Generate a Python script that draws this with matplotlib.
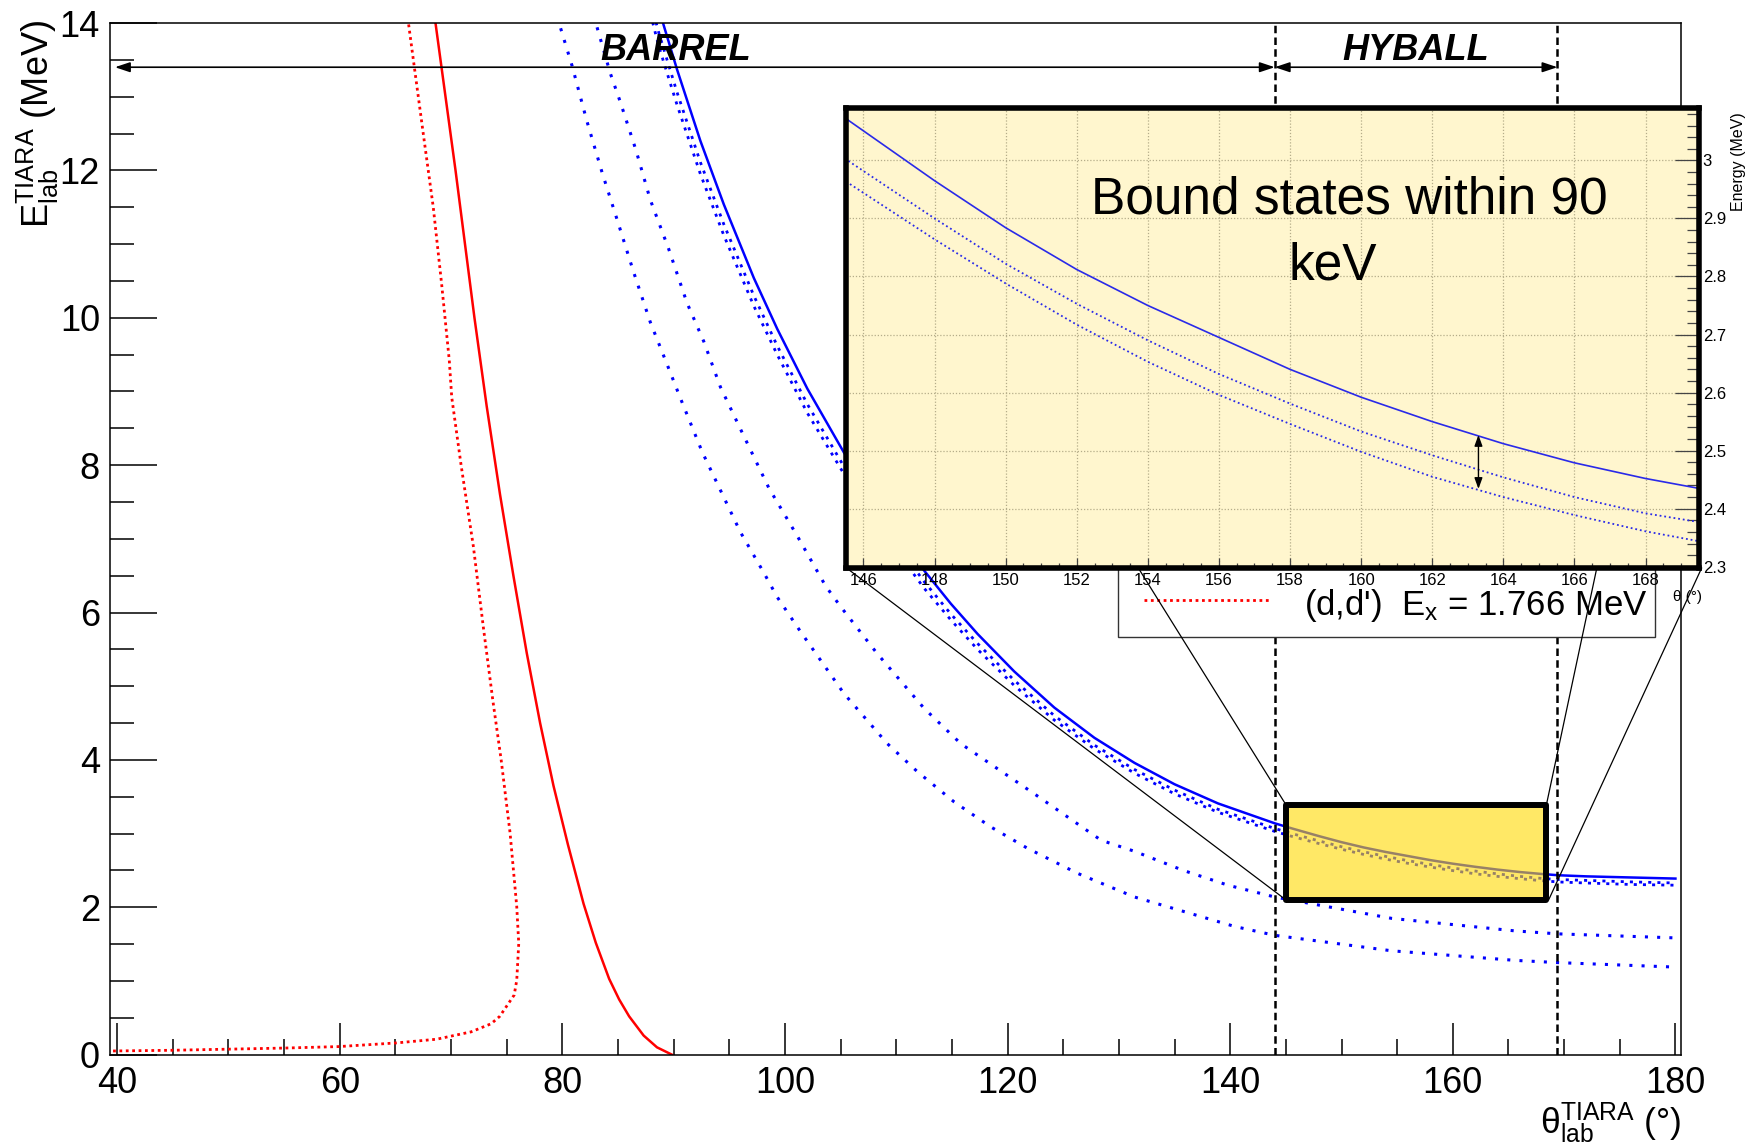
import matplotlib

matplotlib.use("Agg")
import matplotlib.pyplot as plt
from matplotlib.patches import ConnectionPatch, Rectangle
from matplotlib.lines import Line2D
from matplotlib.ticker import FuncFormatter, MultipleLocator

plt.rcParams["font.family"] = ["Liberation Sans", "DejaVu Sans"]
plt.rcParams["mathtext.fontset"] = "custom"
plt.rcParams["mathtext.rm"] = "Liberation Sans"
plt.rcParams["mathtext.it"] = "Liberation Sans:italic"
plt.rcParams["mathtext.bf"] = "Liberation Sans:bold"

W, H = 1750, 1143

# --- (d,p) curves, blue: ground band (solid + two dotted) ---
blue_x = [88.6, 89.1, 90.3, 92.4, 94.5, 97.2, 99.3, 102.0, 105.3, 108.8, 112.5, 114.9,
          117.3, 120.6, 124.2, 127.8, 131.4, 135.0, 138.9, 144.0, 145.6, 148, 150, 152,
          154, 156, 158, 160, 162, 164, 166, 168, 169.5, 172, 176, 180]
blue_solid = [14.23, 13.97, 13.37, 12.40, 11.54, 10.54, 9.85, 9.04, 8.17, 7.35, 6.57, 6.12,
              5.71, 5.20, 4.71, 4.30, 3.96, 3.67, 3.41, 3.14, 3.068, 2.965, 2.884, 2.812,
              2.750, 2.695, 2.640, 2.592, 2.550, 2.512, 2.479, 2.452, 2.435, 2.42, 2.405, 2.39]
blue_dot1 = [13.90, 13.65, 13.06, 12.11, 11.27, 10.30, 9.62, 8.83, 7.98, 7.18, 6.42, 5.98,
             5.58, 5.08, 4.60, 4.20, 3.87, 3.59, 3.33, 3.07, 2.998, 2.900, 2.822, 2.753,
             2.690, 2.632, 2.581, 2.533, 2.492, 2.454, 2.420, 2.392, 2.377, 2.365, 2.345, 2.33]
blue_dot2 = [13.72, 13.47, 12.89, 11.95, 11.12, 10.16, 9.50, 8.71, 7.88, 7.09, 6.33, 5.90,
             5.50, 5.01, 4.54, 4.15, 3.82, 3.54, 3.29, 3.03, 2.960, 2.864, 2.788, 2.717,
             2.653, 2.596, 2.546, 2.498, 2.455, 2.420, 2.389, 2.361, 2.344, 2.33, 2.31, 2.30]
blue_dot1_top = (88.0, 14.25)
blue_dot2_top = (87.7, 14.25)

# --- blue dotted, excited states ---
exc_a_x = [82.5, 83.1, 84.3, 85.2, 86.6, 87.9, 89.56, 91.2, 92.7, 94.2, 96.0, 98.55, 101.1,
           103.65, 105.0, 108.3, 112.5, 115.8, 122.4, 128.4, 131.4, 135.8, 139.8, 144.0,
           154.5, 165.6, 169.4, 180.0]
exc_a_e = [14.26, 13.95, 13.32, 12.93, 12.28, 11.60, 10.93, 10.20, 9.68, 9.06, 8.49, 7.69,
           7.04, 6.36, 6.08, 5.44, 4.70, 4.22, 3.54, 2.91, 2.76, 2.50, 2.30, 2.14, 1.85,
           1.68, 1.64, 1.585]
exc_b_x = [79.3, 79.8, 80.87, 82.2, 83.57, 84.9, 86.4, 87.9, 89.4, 90.6, 92.56, 94.2, 96.0,
           98.1, 99.3, 101.4, 105.3, 109.2, 111.9, 115.2, 118.5, 121.8, 126.3, 131.4,
           135.9, 140.4, 144.0, 154.5, 165.6, 169.4, 179.8]
exc_b_e = [14.25, 13.95, 13.42, 12.67, 11.97, 11.34, 10.62, 9.94, 9.37, 8.91, 8.18, 7.66,
           7.09, 6.54, 6.21, 5.74, 4.90, 4.22, 3.84, 3.43, 3.09, 2.80, 2.46, 2.14, 1.94,
           1.74, 1.62, 1.41, 1.28, 1.25, 1.19]

# --- (d,d) red ---
red_solid_x = [68.3, 68.6, 70.4, 72.1, 73.2, 74.4, 75.6, 76.8, 78.0, 79.2, 80.5, 81.9,
               83.0, 84.2, 85.1, 86.0, 87.3, 88.5, 89.85]
red_solid_e = [14.35, 14.0, 12.0, 10.0, 8.8, 7.6, 6.5, 5.45, 4.5, 3.65, 2.85, 2.05, 1.52,
               1.03, 0.75, 0.52, 0.26, 0.1, 0.0]
red_dot_x = [65.95, 66.17, 66.7, 67.5, 68.4, 69.15, 69.84, 70.06, 70.9, 72.0, 72.9, 73.75,
             74.5, 75.3, 75.9, 76.08, 75.9, 75.67, 74.37, 73.6, 71.8, 68.7, 65.1, 59.9,
             55.0, 44.9, 39.3]
red_dot_e = [14.4, 14.0, 13.4, 12.5, 11.5, 10.46, 9.42, 8.92, 8.0, 6.9, 5.8, 4.81, 4.0,
             3.01, 2.01, 1.51, 1.01, 0.81, 0.52, 0.42, 0.31, 0.21, 0.16, 0.11, 0.09, 0.06,
             0.05]

# detector coverage
barrel_range = (39.8, 144.0)
hyball_range = (144.0, 169.4)
range_arrow_y = 13.4

# zoom window
zoom_box = (145.03, 168.4, 2.098, 3.386)
inset_xlim = (145.52, 169.49)
inset_ylim = (2.298, 3.0904)
split_arrow = (163.3, 2.527, 2.434)

LEGEND_LABEL = r"(d,d')  E$_{\mathrm{x}}$ = 1.766 MeV"


def fxy(px, py):
    return px / W, 1 - py / H


def main() -> None:
    fig = plt.figure(figsize=(W / 100, H / 100), dpi=100)
    l, b = fxy(109.7, 1054.7)
    r, t = fxy(1681, 23)
    ax = fig.add_axes([l, b, r - l, t - b])

    blue = "#0000ff"
    dots = (0, (1.1, 2.2))
    ax.plot(red_dot_x, red_dot_e, color="red", lw=2, ls=(0, (1, 1.3)))
    ax.plot(red_solid_x, red_solid_e, color="red", lw=1.8)
    ax.plot(exc_b_x, exc_b_e, color=blue, lw=2.2, ls=(0, (1, 3)))
    ax.plot(exc_a_x, exc_a_e, color=blue, lw=2.2, ls=(0, (1, 3)))
    ax.plot([blue_dot2_top[0]] + blue_x, [blue_dot2_top[1]] + blue_dot2, color=blue, lw=2, ls=dots)
    ax.plot([blue_dot1_top[0]] + blue_x, [blue_dot1_top[1]] + blue_dot1, color=blue, lw=2, ls=dots)
    ax.plot(blue_x, blue_solid, color=blue, lw=1.8)

    for xv in (hyball_range[0], hyball_range[1]):
        ax.axvline(xv, color="black", lw=1.8, ls=(0, (3, 1.7)), zorder=4)

    head = "<|-|>,head_length=0.45,head_width=0.15"
    for x0, x1 in (barrel_range, hyball_range):
        ax.annotate("", xy=(x1, range_arrow_y), xytext=(x0, range_arrow_y),
                    arrowprops=dict(arrowstyle=head, color="black", lw=1.2,
                                    mutation_scale=20, shrinkA=0, shrinkB=0), zorder=5)
    ax.text(90.2, 13.5, "BARREL", ha="center", va="baseline", fontsize=26,
            fontweight="bold", fontstyle="italic")
    ax.text(156.7, 13.5, "HYBALL", ha="center", va="baseline", fontsize=26,
            fontweight="bold", fontstyle="italic")

    bx0, bx1, by0, by1 = zoom_box
    ax.add_patch(Rectangle((bx0, by0), bx1 - bx0, by1 - by0, facecolor=(1, 0.85, 0, 0.6),
                           edgecolor="black", lw=4.3, joinstyle="round", zorder=6))

    # legend box (top hidden under the inset)
    lx, ly = fxy(1118, 637)
    ax.add_patch(Rectangle((lx, ly), (1655 - 1118) / W, (637 - 520) / H, transform=fig.transFigure,
                           facecolor="white", edgecolor="#333333", lw=1, clip_on=False, zorder=7))
    sx0, sy = fxy(1144, 600)
    sx1, _ = fxy(1269, 600)
    ax.add_line(Line2D([sx0, sx1], [sy, sy], transform=fig.transFigure, color="red", lw=2,
                       ls=(0, (1, 1.3)), clip_on=False, zorder=8))
    tx, ty = fxy(1304, 615)
    ax.text(tx, ty, LEGEND_LABEL, transform=fig.transFigure, fontsize=25, va="baseline", zorder=8)

    ax.set_xlim(39.33, 180.5)
    ax.set_ylim(0, 14)
    ax.xaxis.set_major_locator(MultipleLocator(20))
    ax.xaxis.set_minor_locator(MultipleLocator(5))
    ax.yaxis.set_major_locator(MultipleLocator(2))
    ax.yaxis.set_minor_locator(MultipleLocator(0.5))
    ax.tick_params(which="both", direction="in", top=False, right=False, width=1.1, labelsize=26)
    ax.tick_params(axis="x", which="major", length=23, pad=8)
    ax.tick_params(axis="x", which="minor", length=11.5)
    ax.tick_params(axis="y", which="major", length=34, pad=7)
    ax.tick_params(axis="y", which="minor", length=17.5)
    for sp in ax.spines.values():
        sp.set_linewidth(1.1)

    fig.text(*fxy(38, 20), r"$\mathrm{E}_{\mathrm{lab}}^{\mathrm{TIARA}}$ (MeV)", rotation=90,
             ha="center", va="top", fontsize=26)
    fig.text(*fxy(1681, 1146), r"$\mathrm{\theta}_{\mathrm{lab}}^{\mathrm{TIARA}}$ (°)",
             ha="right", va="bottom", fontsize=25.5)

    # inset
    il, ib = fxy(846.4, 567.9)
    ir, it = fxy(1698.5, 107.9)
    ax_in = fig.add_axes([il, ib, ir - il, it - ib], facecolor="#fff6ce")
    inset_blue = "#2a2ae8"
    ax_in.plot(blue_x, blue_solid, color=inset_blue, lw=1.2)
    ax_in.plot(blue_x, blue_dot1, color=inset_blue, lw=1.3, ls=(0, (1, 1.6)))
    ax_in.plot(blue_x, blue_dot2, color=inset_blue, lw=1.3, ls=(0, (1, 1.6)))
    ax_in.set_xlim(*inset_xlim)
    ax_in.set_ylim(*inset_ylim)
    ax_in.set_axisbelow(True)
    ax_in.grid(True, which="major", color="#b5ad8a", lw=0.9, ls=(0, (1, 1.5)))
    ax_in.xaxis.set_major_locator(MultipleLocator(2))
    ax_in.xaxis.set_minor_locator(MultipleLocator(0.5))
    ax_in.yaxis.set_major_locator(MultipleLocator(0.1))
    ax_in.yaxis.set_minor_locator(MultipleLocator(0.02))
    ax_in.yaxis.set_major_formatter(FuncFormatter(lambda v, _: f"{round(v, 2):g}"))
    ax_in.yaxis.tick_right()
    ax_in.tick_params(which="both", direction="in", colors="#444444", labelcolor="black",
                      labelsize=12, width=0.9)
    ax_in.tick_params(axis="x", which="major", length=7, pad=4)
    ax_in.tick_params(axis="x", which="minor", length=3.5)
    ax_in.tick_params(axis="y", which="major", length=17, pad=3)
    ax_in.tick_params(axis="y", which="minor", length=8.5)
    for sp in ax_in.spines.values():
        sp.set_linewidth(4)
        sp.set_color("black")

    ax_in.annotate("", xy=(split_arrow[0], split_arrow[2]), xytext=(split_arrow[0], split_arrow[1]),
                   arrowprops=dict(arrowstyle="<|-|>,head_length=0.55,head_width=0.2",
                                   color="black", lw=1, mutation_scale=12, shrinkA=0, shrinkB=0))
    ax_in.text(*fxy(1349, 213), "Bound states within 90", transform=fig.transFigure,
               ha="center", va="baseline", fontsize=37)
    ax_in.text(*fxy(1333, 279), "keV", transform=fig.transFigure,
               ha="center", va="baseline", fontsize=37)
    fig.text(*fxy(1738, 112), "Energy (MeV)", rotation=90, ha="center", va="top", fontsize=11.5)
    fig.text(*fxy(1702, 601), "θ (°)", ha="right", va="baseline", fontsize=11)

    # lines joining the zoom box to the inset
    joins = [((inset_xlim[0], inset_ylim[0]), (bx0, by0)),
             ((153.73, inset_ylim[0]), (bx0, by1)),
             ((166.63, inset_ylim[0]), (bx1, by1)),
             ((169.58, inset_ylim[0]), (bx1 + 0.2, by0))]
    for a, bpt in joins:
        ax.add_artist(ConnectionPatch(xyA=a, coordsA=ax_in.transData, xyB=bpt,
                                      coordsB=ax.transData, color="black", lw=0.9, zorder=9))

    fig.savefig("out.png", dpi=100)


if __name__ == "__main__":
    main()
